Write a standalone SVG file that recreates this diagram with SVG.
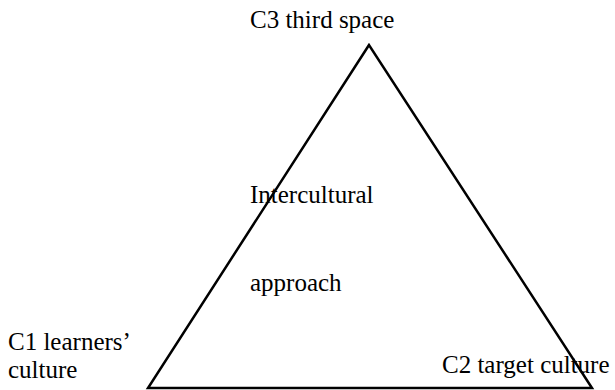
<svg xmlns="http://www.w3.org/2000/svg" width="615" height="390" viewBox="0 0 615 390">
<style>
text{font-family:"Liberation Serif","Times New Roman",serif;font-size:25px;fill:#000}
.tri{fill:none;stroke:#000;stroke-width:2.5;stroke-linejoin:miter}
</style>
<rect width="615" height="390" fill="#fff"/>
<g id="triangle"><polygon class="tri" points="369,45 148,388 592,388"/></g>
<g id="c3"><text x="250" y="28">C3 third space</text></g>
<g id="approach-label"><text x="250" y="203">Intercultural</text><text x="250" y="291">approach</text></g>
<g id="c1"><text x="8" y="350">C1 learners’</text><text x="8" y="378">culture</text></g>
<g id="c2"><text x="442" y="373">C2 target culture</text></g>
</svg>
